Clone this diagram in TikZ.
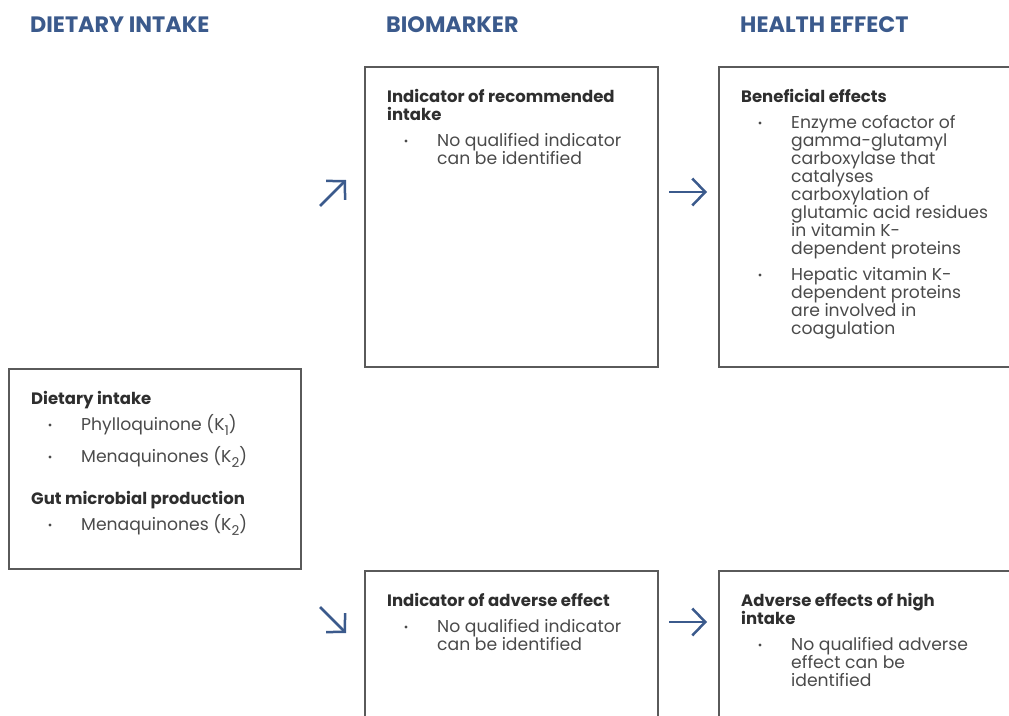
\documentclass[tikz,border=0pt]{standalone}
\usepackage{fontspec}
\setmainfont{Poppins}
\usetikzlibrary{arrows.meta}
\definecolor{hblue}{HTML}{3B5A8C}
\definecolor{boxgray}{HTML}{5A5A5A}
\definecolor{txtc}{HTML}{4A4A4A}
\definecolor{ttlc}{HTML}{2E2E2E}
\newcommand\ksub[1]{\raisebox{-0.3em}{\fontsize{13.5}{13.5}\selectfont #1}}
\begin{document}
\begin{tikzpicture}[x=1pt,y=-1pt,
  box/.style={draw=boxgray, line width=1.4pt, anchor=north west, inner sep=0, outer sep=0},
  head/.style={anchor=base west, text=hblue, font=\fontsize{22.3}{24}\selectfont\bfseries, inner sep=0},
  ttl/.style={anchor=base west, text=ttlc, font=\fontsize{16.5}{18}\selectfont\bfseries, inner sep=0},
  item/.style={anchor=base west, text=txtc, font=\fontsize{17.2}{18}\selectfont, inner sep=0},
  bul/.style={circle, fill=txtc, inner sep=0, minimum size=3.4pt},
  arr/.style={draw=hblue, line width=2.5pt, -{Straight Barb[length=13pt, width=27pt, line width=2.5pt]}}
]
\useasboundingbox (0,0) rectangle (1009,715);
\clip (0,0) rectangle (1009,715);
% headings
\node[head] (h1) at (30,32) {DIETARY INTAKE};
\node[head] (h2) at (386,32) {BIOMARKER};
\node[head] (h3) at (740,32) {HEALTH EFFECT};
% boxes
\node[box, minimum width=293pt, minimum height=300pt] (bio1) at (365,67) {};
\node[box, minimum width=310pt, minimum height=300pt] (hel1) at (719,67) {};
\node[box, minimum width=292pt, minimum height=200pt] (diet) at (9,369) {};
\node[box, minimum width=293pt, minimum height=170pt] (bio2) at (365,571) {};
\node[box, minimum width=310pt, minimum height=170pt] (hel2) at (719,571) {};
% biomarker top
\node[ttl] (b1t1) at (387,102) {Indicator of recommended};
\node[ttl] (b1t2) at (387,120) {intake};
\node[bul] (b1d) at (406,141) {};
\node[item] (b1i1) at (437,146) {No qualified indicator};
\node[item] (b1i2) at (437,164) {can be identified};
% health top
\node[ttl] (h1t1) at (741,102) {Beneficial effects};
\node[bul] (h1d1) at (760,123) {};
\node[item] (h1a) at (791,128) {Enzyme cofactor of};
\node[item] (h1b) at (791,146) {gamma-glutamyl};
\node[item] (h1c) at (791,164) {carboxylase that};
\node[item] (h1e) at (791,182) {catalyses};
\node[item] (h1f) at (791,200) {carboxylation of};
\node[item] (h1g) at (791,218) {glutamic acid residues};
\node[item] (h1h) at (791,236) {in vitamin K-};
\node[item] (h1i) at (791,254) {dependent proteins};
\node[bul] (h1d2) at (760,275) {};
\node[item] (h1j) at (791,280) {Hepatic vitamin K-};
\node[item] (h1k) at (791,298) {dependent proteins};
\node[item] (h1l) at (791,316) {are involved in};
\node[item] (h1m) at (791,334) {coagulation};
% dietary
\node[ttl] (d1) at (31,404) {Dietary intake};
\node[bul] (dd1) at (50,425) {};
\node[item] (d2) at (81,430) {Phylloquinone (K\ksub{1})};
\node[bul] (dd2) at (50,457) {};
\node[item] (d3) at (81,462) {Menaquinones (K\ksub{2})};
\node[ttl] (d4) at (31,504) {Gut microbial production};
\node[bul] (dd3) at (50,525) {};
\node[item] (d5) at (81,530) {Menaquinones (K\ksub{2})};
% biomarker bottom
\node[ttl] (b2t) at (387,606) {Indicator of adverse effect};
\node[bul] (b2d) at (406,627) {};
\node[item] (b2i1) at (437,632) {No qualified indicator};
\node[item] (b2i2) at (437,650) {can be identified};
% health bottom
\node[ttl] (h2t1) at (741,606) {Adverse effects of high};
\node[ttl] (h2t2) at (741,624) {intake};
\node[bul] (h2d) at (760,645) {};
\node[item] (h2a) at (791,650) {No qualified adverse};
\node[item] (h2b) at (791,668) {effect can be};
\node[item] (h2c) at (791,686) {identified};
% arrows
\coordinate (a1s) at (320,206); \coordinate (a1e) at (346,180);
\coordinate (a2s) at (669,192); \coordinate (a2e) at (707,192);
\coordinate (a3s) at (320,607); \coordinate (a3e) at (346,633);
\coordinate (a4s) at (669,622); \coordinate (a4e) at (707,622);
\draw[arr] (a1s) -- (a1e);
\draw[arr] (a2s) -- (a2e);
\draw[arr] (a3s) -- (a3e);
\draw[arr] (a4s) -- (a4e);
\end{tikzpicture}
\end{document}
